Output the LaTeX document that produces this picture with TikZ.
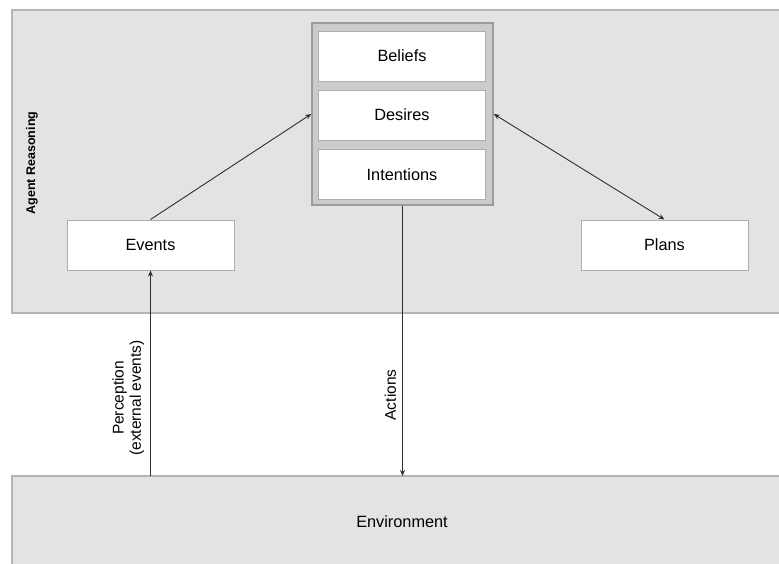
\documentclass[tikz,border=0pt]{standalone}
\usepackage{fontspec}
\setmainfont{Liberation Sans}
\usetikzlibrary{arrows.meta}
\definecolor{bgray}{HTML}{E3E3E3}
\definecolor{bline}{HTML}{B4B4B4}
\definecolor{cfill}{HTML}{CBCBCB}
\definecolor{cline}{HTML}{9C9C9C}
\definecolor{wline}{HTML}{AEAEAE}
\definecolor{aline}{HTML}{2E2E2E}
\tikzset{
  region/.style={draw=bline, fill=bgray, line width=1.2pt},
  container/.style={draw=cline, fill=cfill, line width=1.5pt, minimum width=181pt, minimum height=182pt, inner sep=0pt},
  wbox/.style={draw=wline, fill=white, line width=1pt, minimum width=167pt, minimum height=50pt, inner sep=0pt, font=\fontsize{16.3}{19}\selectfont},
  conn/.style={draw=aline, line width=0.9pt, -{Stealth[length=6pt,width=5pt]}},
  lbl/.style={font=\fontsize{15.5}{17.3}\selectfont, align=center, rotate=90, anchor=south, inner sep=6pt}
}
\begin{document}
\begin{tikzpicture}[x=1pt,y=-1pt]
\useasboundingbox (0,0) rectangle (779,563);
\clip (0,0) rectangle (779,563);
% regions
\path[region] (12,10) rectangle (790,313);
\path[region] (12,476) rectangle (790,575);
\coordinate (envtop) at (402,476);
\node[font=\fontsize{16.3}{19}\selectfont] (envlbl) at (402,522) {Environment};
\node[font=\bfseries\fontsize{12.5}{14}\selectfont, rotate=90] (agent) at (32,163) {Agent Reasoning};
% BDI container
\node[container] (bdi) at (402.5,114) {};
\node[wbox] (beliefs) at (402,56) {Beliefs};
\node[wbox] (desires) at (402,115) {Desires};
\node[wbox] (intentions) at (402,174.5) {Intentions};
% side nodes
\node[wbox] (events) at (150.5,245) {Events};
\node[wbox] (plans) at (664.5,245) {Plans};
% connectors
\draw[conn] (events.north) -- (bdi.west);
\draw[conn, {Stealth[length=6pt,width=5pt]}-{Stealth[length=6pt,width=5pt]}] (bdi.east) -- (plans.north);
\draw[conn] (bdi.south) -- (bdi.south |- envtop) node[lbl, pos=0.70] {Actions};
\draw[conn] (events.south |- envtop) -- (events.south) node[lbl, pos=0.38] {Perception\\(external events)};
\end{tikzpicture}
\end{document}
